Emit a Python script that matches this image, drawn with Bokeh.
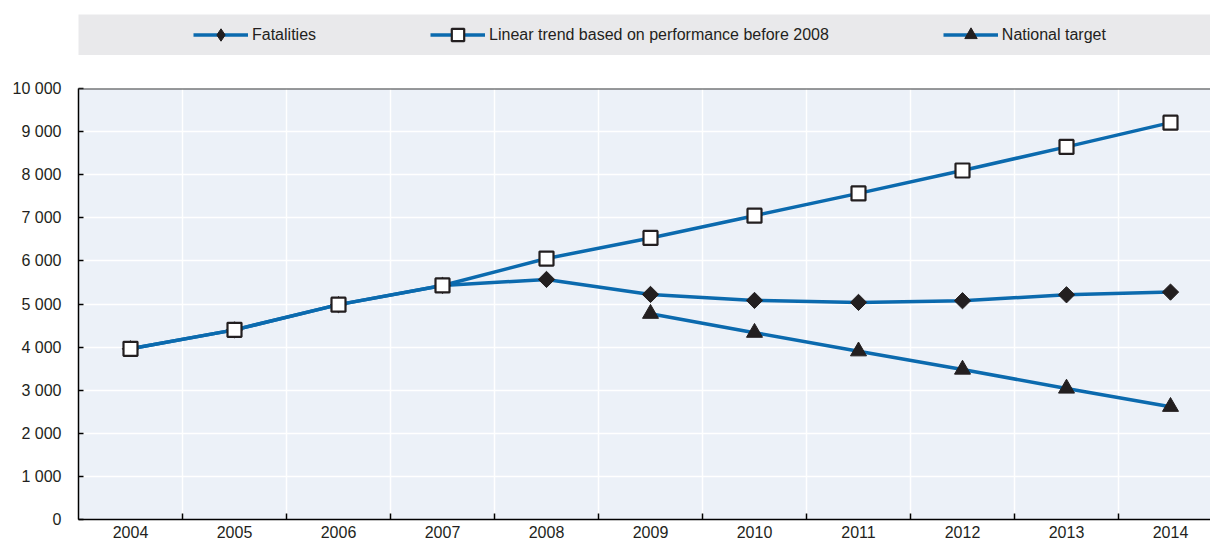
import math
from bokeh.plotting import figure
from bokeh.models import Range1d, FixedTicker, Legend, LegendItem, Span
from bokeh.layouts import column
from bokeh.embed import file_html
from bokeh.resources import INLINE

years = [2004, 2005, 2006, 2007, 2008, 2009, 2010, 2011, 2012, 2013, 2014]
fatalities = [3961, 4400, 4985, 5430, 5570, 5222, 5083, 5037, 5076, 5214, 5276]
trend = [3961, 4400, 4985, 5430, 6055, 6533, 7049, 7566, 8098, 8645, 9208]
target_years = [2009, 2010, 2011, 2012, 2013, 2014]
target = [4775, 4335, 3904, 3480, 3040, 2616]
series_names = ["Fatalities", "Linear trend based on performance before 2008", "National target"]
y_ticks = [0, 1000, 2000, 3000, 4000, 5000, 6000, 7000, 8000, 9000, 10000]

BLUE = "#0B6AAE"
DARK = "#231F20"
FONT = "Liberation Sans"
FS = "16px"
W = 1210

# ---------- legend strip ----------
lg = figure(width=W, height=55, x_range=(0, 1), y_range=(0, 1),
            x_axis_type=None, y_axis_type=None, toolbar_location=None,
            output_backend="svg", min_border_left=75, min_border_right=0,
            min_border_top=14, min_border_bottom=0,
            background_fill_color="#E9E9EB", border_fill_color="white",
            outline_line_color=None)
lg.xgrid.visible = False
lg.ygrid.visible = False

def dummy(marker, fill, lw):
    l = lg.line(x=[-5, -4], y=[-5, -4], line_width=3.5, line_color=BLUE)
    s = lg.scatter(x=[-5], y=[-5], marker=marker, size=12, fill_color=fill,
                   line_color=DARK, line_width=lw)
    return [l, s]

items = [
    LegendItem(label=series_names[0], renderers=dummy("diamond", DARK, 1)),
    LegendItem(label=series_names[1], renderers=dummy("square", "white", 2.2)),
    LegendItem(label=series_names[2], renderers=dummy("triangle", DARK, 1)),
]
legend = Legend(items=items, orientation="horizontal", location=(115, 5),
                spacing=114, glyph_width=55, glyph_height=31, label_standoff=4,
                label_text_font=FONT, label_text_font_size=FS,
                label_text_color=DARK, background_fill_alpha=0,
                border_line_color=None, padding=0, margin=0)
lg.add_layout(legend, "center")

# ---------- main chart ----------
p = figure(width=W, height=489, x_range=Range1d(2003.5, 2003.5 + (W - 78) / 104),
           y_range=Range1d(0, 10000), toolbar_location=None, output_backend="svg",
           min_border_left=78, min_border_right=0, min_border_top=33,
           min_border_bottom=25, background_fill_color="#ECF1F8",
           border_fill_color="white", outline_line_color=None)

p.xaxis.ticker = FixedTicker(ticks=years, minor_ticks=[y + 0.5 for y in years[:-1]])
p.xaxis.major_tick_line_color = None
p.xaxis.major_tick_in = 0
p.xaxis.major_tick_out = 0
p.xaxis.minor_tick_in = 6
p.xaxis.minor_tick_out = 0
p.xaxis.minor_tick_line_color = "black"
p.xaxis.minor_tick_line_width = 1.5
p.xaxis.major_label_standoff = 6

p.yaxis.ticker = FixedTicker(ticks=y_ticks)
p.yaxis.major_label_overrides = {v: f"{v:,}".replace(",", " ") for v in y_ticks}
p.yaxis.major_tick_in = 5
p.yaxis.major_tick_out = 0
p.yaxis.major_tick_line_color = "black"
p.yaxis.major_tick_line_width = 1.5
p.yaxis.minor_tick_line_color = None
p.yaxis.major_label_standoff = 17

for ax in (p.xaxis, p.yaxis):
    ax.axis_line_color = "black"
    ax.axis_line_width = 1.5
    ax.major_label_text_font = FONT
    ax.major_label_text_font_size = FS
    ax.major_label_text_color = DARK

p.xgrid.ticker = FixedTicker(ticks=[y + 0.5 for y in years[:-1]])
p.xgrid.grid_line_color = "white"
p.xgrid.grid_line_width = 1.5
p.ygrid.grid_line_color = "white"
p.ygrid.grid_line_width = 1.5

p.add_layout(Span(location=y_ticks[-1], dimension="width", line_color="#3A3A3A", line_width=2))

p.line(years, fatalities, line_width=3.5, line_color=BLUE)
p.scatter(years, fatalities, marker="square", angle=math.pi / 4, size=11.5,
          fill_color=DARK, line_color=DARK)
p.line(years, trend, line_width=3.5, line_color=BLUE)
p.scatter(years, trend, marker="square", size=14, fill_color="white", line_color=DARK, line_width=2.2)
p.line(target_years, target, line_width=3.5, line_color=BLUE)
p.scatter(target_years, target, marker="triangle", size=16, fill_color=DARK, line_color=DARK)

layout = column(lg, p, spacing=0)
open("out.html", "w").write(file_html(layout, INLINE))
